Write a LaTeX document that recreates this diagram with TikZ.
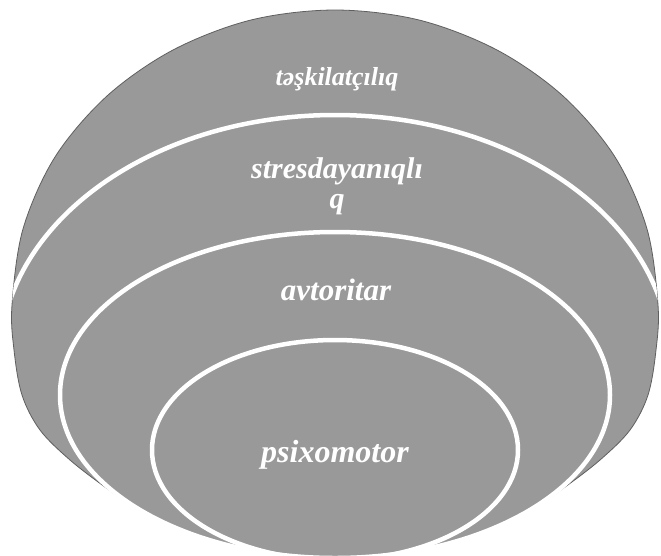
\documentclass[tikz,border=0pt]{standalone}
\usepackage{fontspec}
\setmainfont{Liberation Serif}
\definecolor{fillgray}{RGB}{153,153,153}
\definecolor{edgegray}{RGB}{95,95,95}
\begin{document}
\begin{tikzpicture}[x=1pt,y=-1pt,
  ring/.style={draw=white, line width=4.5pt},
  lbl/.style={text=white, inner sep=0pt, anchor=base}]
\def\outerpath{plot[smooth cycle, tension=0.55] coordinates {
  (12,305) (14,350) (22,395) (40,430) (70,460) (105,487) (140,511) (183,531) (233,546)
  (285,555) (335,558) (385,555) (437,546) (487,531) (530,511) (565,487) (600,460)
  (630,430) (648,395) (656,350) (658,305) (647,229) (615,157) (563,96)
  (497,50) (419,20) (335,10) (251,20) (173,50) (107,96) (55,157) (23,229)}}
\useasboundingbox (0,0) rectangle (661,555);
\fill[white] (0,0) rectangle (661,555);
\begin{scope}
  \clip (0,0) rectangle (661,555);
  \fill[fillgray, draw=edgegray, line width=0.8pt] \outerpath;
  \fill[fillgray] (335,395) ellipse [x radius=275, y radius=163];
  \begin{scope}
    \clip \outerpath;
    \draw[ring] (335,360) ellipse [x radius=335, y radius=245];
  \end{scope}
  \draw[ring] (335,395) ellipse [x radius=275, y radius=163];
  \draw[ring] (335,450) ellipse [x radius=183, y radius=110];
\end{scope}
\node[lbl, font={\fontsize{26}{26}\selectfont\bfseries\itshape}] (t1) at (337,85) {təşkilatçılıq};
\node[lbl, align=center, font={\fontsize{30}{30}\selectfont\bfseries\itshape}] (t2) at (337,208) {stresdayanıqlı\\q};
\node[lbl, font={\fontsize{31}{31}\selectfont\bfseries\itshape}] (t3) at (336,300) {avtoritar};
\node[lbl, font={\fontsize{32}{32}\selectfont\bfseries\itshape}] (t4) at (335,462) {psixomotor};
\end{tikzpicture}
\end{document}
